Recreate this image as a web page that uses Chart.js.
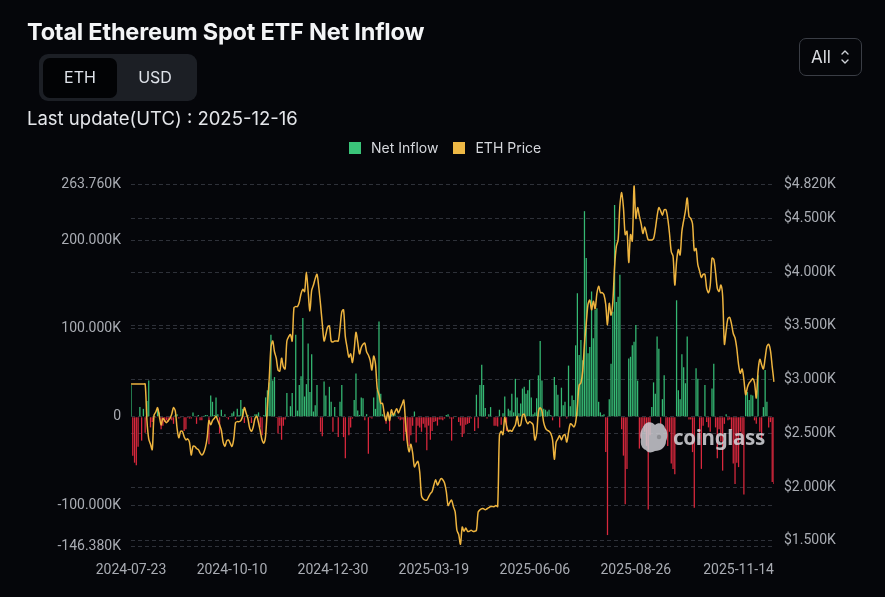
<!DOCTYPE html>
<html>
<head>
<meta charset="utf-8">
<script src="https://cdn.jsdelivr.net/npm/chart.js@4.4.1/dist/chart.umd.min.js"></script>
<style>
  html, body { margin: 0; padding: 0; background: #05060a; }
  body { width: 885px; height: 597px; position: relative; overflow: hidden; font-family: Inter, "Noto Sans", sans-serif; }
  #c { position: absolute; left: 0; top: 0; }
  .title { position: absolute; left: 27px; top: 18px; font: 700 23.5px Inter, sans-serif; line-height: 28px; color: #f3f4f6; letter-spacing: -0.2px; white-space: nowrap; }
  .seg { position: absolute; left: 39px; top: 54px; width: 158px; height: 47px; background: #1c1f25; border-radius: 9px; }
  .seg .on { position: absolute; left: 4px; top: 4px; width: 74px; height: 40px; background: #020305; border-radius: 7px; }
  .seg .lbl { position: absolute; top: 0; height: 47px; font: 400 16px Inter, sans-serif; line-height: 47px; color: #dfe3ea; text-align: center; }
  .upd { position: absolute; left: 27px; top: 105px; font: 400 18.5px Inter, sans-serif; line-height: 26px; color: #e4e6ea; white-space: nowrap; }
  .all { position: absolute; left: 799px; top: 38px; width: 63px; height: 38px; border: 1px solid #3a3d45; border-radius: 7px; box-sizing: border-box; }
  .all span { position: absolute; left: 11px; top: 0; font: 400 17px Inter, sans-serif; line-height: 37px; color: #d9dbe0; }
  .all svg { position: absolute; left: 40px; top: 9px; }
  .legend { position: absolute; top: 139px; left: 349px; font: 400 14px Inter, sans-serif; color: #d6d8dd; white-space: nowrap; }
  .legend i { display: inline-block; width: 12px; height: 12px; vertical-align: -1px; margin-right: 10px; }
  .legend b { font-weight: 400; margin-right: 15px; }
  .wm { position: absolute; left: 639px; top: 420px; pointer-events: none; }
  .wm span { position: absolute; left: 34px; top: 3px; font: 700 20.5px "Noto Sans", sans-serif; color: rgba(215, 215, 220, 0.85); letter-spacing: -0.3px; }
</style>
</head>
<body>
<canvas id="c" width="885" height="597"></canvas>
<div class="title">Total Ethereum Spot ETF Net Inflow</div>
<div class="seg"><div class="on"></div><div class="lbl" style="left:4px;width:74px">ETH</div><div class="lbl" style="left:78px;width:76px">USD</div></div>
<div class="upd">Last update(UTC) : 2025-12-16</div>
<div class="all"><span>All</span>
  <svg width="10" height="18" viewBox="0 0 10 18"><path d="M2 6 L5 3 L8 6 M2 12 L5 15 L8 12" fill="none" stroke="#cfd2d8" stroke-width="1.4" stroke-linecap="round" stroke-linejoin="round"/></svg>
</div>
<div class="legend"><i style="background:#3ac479"></i><b>Net Inflow</b><i style="background:#eeb845"></i>ETH Price</div>
<div class="wm">
  <svg width="30" height="34" viewBox="0 0 30 34"><path d="M6 4 C9 1 14 2 16 5 C19 2 25 3 26 8 C29 11 29 17 27 21 C27 27 22 31 16 31 C13 33 8 33 7 30 C3 29 1 24 2 19 C0 15 2 9 6 4 Z" fill="rgba(205,205,210,0.85)"/><circle cx="20" cy="17" r="2.2" fill="rgba(120,120,125,0.6)"/></svg>
  <span>coinglass</span>
</div>
<script>
// weekday categories (trading days incl. holidays)
const dates = [];
(function () {
  const d = new Date(Date.UTC(2024, 6, 23));
  while (dates.length < 364) {
    const wd = d.getUTCDay();
    if (wd !== 0 && wd !== 6) dates.push(d.toISOString().slice(0, 10));
    d.setUTCDate(d.getUTCDate() + 1);
  }
})();

const tickLabels = ["2024-07-23", "2024-10-10", "2024-12-30", "2025-03-19", "2025-06-06", "2025-08-26", "2025-11-14"];
const inflowTicks = [-146.38, -100, 0, 100, 200, 263.76];
const priceTicks = [1.5, 2, 2.5, 3, 3.5, 4, 4.5, 4.82];

// daily net inflow, thousand ETH
const netInflow = [
  36, -44, -52, -55, -34, 11, -27, 9, -18, 18,
  41, -12, -6, 1, -1, 9, 5, -14, -10, -6,
  -4, -6, -2, -4, -8, 2, 3, -2, -1, 0,
  -16, -14, -1, -2, -2, 5, 0, -8, 2, -4,
  -4, 1, 2, 2, -31, 24, 17, 2, 22, 3,
  -19, 8, 1, 3, -1, -3, 1, 4, 6, -3,
  9, 2, 19, 9, -7, 1, 2, -1, -7, 1,
  3, 3, 5, -12, -21, 2, 22, 30, 39, 93,
  41, 45, -1, -19, -10, -26, -10, -3, 27, 1,
  12, 27, 0, 93, 7, 36, 46, 112, 23, 37,
  83, 28, 71, 6, 13, 36, 1, -17, -22, 40,
  24, 0, 34, 17, -17, 11, 0, -23, 17, 36,
  -23, -47, 0, -21, -12, -2, 19, 49, 7, 2,
  22, 21, -4, 3, -42, -1, -2, 22, 9, 30,
  108, 26, 3, 2, -8, 5, -16, 3, 2, 4,
  1, -2, -4, -3, -27, -17, -27, -33, -21, -10,
  6, -29, -10, -12, -17, -8, -12, -38, -10, -26,
  -16, -6, -5, -10, -3, -3, -4, -2, 2, 3,
  -2, -27, -2, 1, 0, -6, -10, -23, -19, -9,
  -8, -7, -2, 0, -16, 25, -13, 36, 59, 36,
  10, -2, 3, 11, 0, -10, -10, -11, 8, -9,
  4, 23, -16, 9, 7, 26, 5, 43, 22, 4,
  15, 32, 34, 26, 30, 42, 22, 3, 5, 21,
  47, 86, 41, 9, 8, 6, 8, 2, -4, 45,
  36, 25, -12, 33, 13, 17, -2, 58, 12, 24,
  19, 81, 140, 70, 87, 64, 233, 180, 72, 79,
  142, 89, 121, 123, 17, 5, 2, 3, -40, -134,
  20, 60, 119, 240, 130, 136, 161, -14, -44, -99,
  -59, 66, 68, 81, 85, 104, 41, -36, -25, -12,
  -17, -33, -105, -21, 11, 39, 26, 91, 77, -8,
  20, 47, -16, -33, -17, -53, -59, -65, 132, 30,
  20, 71, 56, 38, 91, -3, -3, -40, -103, 55,
  43, -25, -59, -10, 36, -6, -12, -17, 32, 60,
  -12, -47, -14, -28, -61, -8, 3, -4, -3, -15,
  -53, -76, -52, -57, -17, -32, -88, 30, 28, 19,
  25, 24, -4, -8, 47, -17, -25, 11, 53, 17,
  -12, -6, -74, -76
];

// ETH price, thousand USD
const ethPrice = [
  2.96, 2.96, 2.96, 2.96, 2.96, 2.96, 2.96, 2.96, 2.96, 2.62,
  2.45, 2.40, 2.35, 2.67, 2.70, 2.74, 2.66, 2.58, 2.64, 2.62,
  2.60, 2.62, 2.64, 2.68, 2.74, 2.71, 2.55, 2.46, 2.52, 2.52,
  2.47, 2.44, 2.45, 2.42, 2.30, 2.38, 2.38, 2.36, 2.35, 2.32,
  2.30, 2.32, 2.37, 2.46, 2.62, 2.58, 2.62, 2.64, 2.66, 2.62,
  2.58, 2.53, 2.42, 2.38, 2.43, 2.44, 2.41, 2.38, 2.45, 2.60,
  2.61, 2.61, 2.62, 2.66, 2.74, 2.69, 2.64, 2.55, 2.52, 2.56,
  2.64, 2.66, 2.60, 2.52, 2.44, 2.41, 2.48, 2.75, 3.00, 3.30,
  3.36, 3.26, 3.20, 3.09, 3.08, 3.20, 3.12, 3.10, 3.36, 3.40,
  3.42, 3.36, 3.67, 3.68, 3.68, 3.72, 3.80, 3.84, 3.82, 4.00,
  3.82, 3.64, 3.83, 3.88, 3.94, 3.98, 3.86, 3.70, 3.52, 3.36,
  3.42, 3.49, 3.50, 3.36, 3.35, 3.36, 3.36, 3.36, 3.48, 3.63,
  3.65, 3.40, 3.30, 3.21, 3.24, 3.16, 3.28, 3.44, 3.35, 3.24,
  3.30, 3.33, 3.34, 3.26, 3.23, 3.18, 3.09, 3.22, 3.15, 2.92,
  2.86, 2.78, 2.78, 2.68, 2.62, 2.70, 2.62, 2.72, 2.67, 2.70,
  2.73, 2.69, 2.73, 2.77, 2.81, 2.60, 2.42, 2.33, 2.40, 2.32,
  2.19, 2.22, 2.24, 2.14, 1.92, 1.89, 1.88, 1.88, 1.91, 1.94,
  1.96, 2.02, 2.07, 2.02, 2.05, 2.08, 2.07, 2.04, 1.96, 1.83,
  1.86, 1.88, 1.82, 1.77, 1.60, 1.56, 1.47, 1.63, 1.59, 1.62,
  1.59, 1.59, 1.60, 1.59, 1.59, 1.60, 1.77, 1.79, 1.80, 1.80,
  1.79, 1.80, 1.81, 1.82, 1.82, 1.82, 1.83, 1.82, 2.48, 2.52,
  2.49, 2.65, 2.57, 2.52, 2.53, 2.52, 2.55, 2.58, 2.66, 2.57,
  2.58, 2.67, 2.68, 2.62, 2.59, 2.61, 2.60, 2.58, 2.44, 2.50,
  2.70, 2.74, 2.71, 2.60, 2.55, 2.53, 2.52, 2.50, 2.44, 2.26,
  2.42, 2.45, 2.48, 2.44, 2.48, 2.49, 2.42, 2.51, 2.59, 2.58,
  2.56, 2.60, 2.75, 2.95, 2.97, 3.08, 3.33, 3.52, 3.70, 3.74,
  3.65, 3.73, 3.66, 3.80, 3.87, 3.81, 3.81, 3.79, 3.70, 3.51,
  3.71, 3.60, 3.72, 4.05, 4.24, 4.30, 4.62, 4.74, 4.60, 4.35,
  4.38, 4.09, 4.35, 4.29, 4.80, 4.50, 4.60, 4.52, 4.45, 4.36,
  4.42, 4.36, 4.30, 4.30, 4.30, 4.31, 4.40, 4.52, 4.60, 4.57,
  4.53, 4.58, 4.58, 4.50, 4.36, 4.19, 4.15, 3.88, 4.10, 4.21,
  4.16, 4.38, 4.48, 4.57, 4.69, 4.52, 4.50, 4.45, 4.20, 4.22,
  4.07, 4.01, 3.95, 3.98, 3.98, 3.85, 3.81, 3.88, 4.13, 4.12,
  4.00, 3.85, 3.82, 3.88, 3.78, 3.33, 3.46, 3.57, 3.58, 3.52,
  3.43, 3.39, 3.29, 3.14, 3.06, 3.10, 3.00, 2.86, 2.93, 2.97,
  2.99, 3.01, 2.97, 2.83, 3.08, 3.19, 3.14, 3.10, 3.20, 3.31,
  3.33, 3.27, 3.12, 2.98
];

const GREEN = "#35b873";
const RED = "#d9283d";
const GRID = "#2e3139";
const TICK = "#a9acb3";

const tickFont = { family: "Roboto", size: 14 };

const config = {
  data: {
    labels: dates,
    datasets: [
      {
        type: "line",
        label: "ETH Price",
        data: ethPrice,
        yAxisID: "y1",
        borderColor: "#eeb43f",
        borderWidth: 1.5,
        pointRadius: 0,
        tension: 0.3,
        order: 0,
      },
      {
        type: "bar",
        label: "Net Inflow",
        data: netInflow,
        yAxisID: "y",
        backgroundColor: netInflow.map((v) => (v >= 0 ? GREEN : RED)),
        barPercentage: 0.72,
        categoryPercentage: 1,
        order: 1,
      },
    ],
  },
  options: {
    responsive: false,
    animation: false,
    layout: { padding: { top: 184, left: 0, right: 0, bottom: 0 } },
    plugins: {
      legend: { display: false },
      tooltip: { enabled: false },
    },
    scales: {
      x: {
        type: "category",
        offset: false,
        grid: { display: false },
        border: { display: false },
        ticks: { color: TICK, font: tickFont, padding: 8, maxRotation: 0, autoSkip: false },
        afterBuildTicks: (s) => {
          s.ticks = tickLabels.map((t) => ({ value: dates.indexOf(t) }));
        },
        afterFit: (s) => { s.height = 51; },
      },
      y: {
        position: "left",
        min: -146.38,
        max: 263.76,
        grid: { color: GRID, drawTicks: false },
        border: { display: false, dash: [4, 3] },
        ticks: {
          color: TICK,
          font: tickFont,
          padding: 10,
          callback: (v) => (v === 0 ? "0" : v.toFixed(3) + "K"),
        },
        afterBuildTicks: (s) => { s.ticks = inflowTicks.map((v) => ({ value: v })); },
        afterFit: (s) => { s.width = 131; },
      },
      y1: {
        position: "right",
        min: 1.4535,
        max: 4.82,
        grid: { color: GRID, drawTicks: false },
        border: { display: false, dash: [4, 3] },
        ticks: {
          color: TICK,
          font: tickFont,
          padding: 10,
          callback: (v) => "$" + v.toFixed(3) + "K",
        },
        afterBuildTicks: (s) => { s.ticks = priceTicks.map((v) => ({ value: v })); },
        afterFit: (s) => { s.width = 111; },
      },
    },
  },
};

const myChart = new Chart(document.getElementById("c"), config);
</script>
</body>
</html>
